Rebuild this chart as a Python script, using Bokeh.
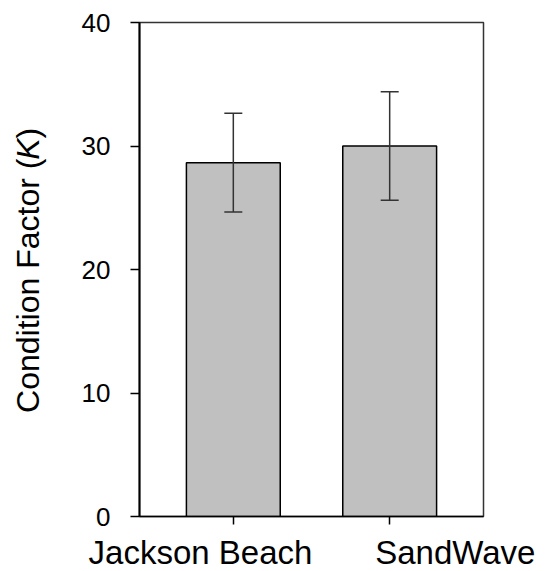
import numpy as np
from bokeh.plotting import figure
from bokeh.models import (ColumnDataSource, Range1d, FixedTicker, Whisker, TeeHead,
                          Label, LinearAxis)
from bokeh.layouts import row
from bokeh.embed import file_html
from bokeh.resources import INLINE

# ---- data ----
categories = ["Jackson Beach", "SandWave"]
condition_k = [28.65, 30.0]
k_error = [4.0, 4.4]
y_ticks = [0, 10, 20, 30, 40]

FONT = "Liberation Sans"
xpos = [float(i) for i in range(1, len(categories) + 1)]
upper = [v + e for v, e in zip(condition_k, k_error)]
lower = [v - e for v, e in zip(condition_k, k_error)]
src = ColumnDataSource(dict(x=xpos, top=condition_k, upper=upper, lower=lower))

TOP, BOTTOM = 22, 55
FRAME_H = 494
FRAME_W = 344
LW = 50
y_range = Range1d(0, 40)

# ---- main plot ----
p = figure(frame_width=FRAME_W, frame_height=FRAME_H, output_backend="svg",
           toolbar_location=None,
           x_range=Range1d(0.4, len(categories) + 0.6), y_range=y_range,
           min_border_left=139 - LW, min_border_right=58,
           min_border_top=TOP, min_border_bottom=BOTTOM)
p.background_fill_color = "white"
p.border_fill_color = "white"
p.outline_line_color = "#333333"
p.outline_line_width = 1.5
p.xgrid.visible = False
p.ygrid.visible = False

p.vbar(x="x", top="top", width=0.6, source=src, fill_color="#c0c0c0",
       line_color="black", line_width=1.5)

wh = Whisker(base="x", upper="upper", lower="lower", source=src, level="overlay",
             line_color="#333333", line_width=1.5,
             upper_head=TeeHead(size=18, line_color="#333333", line_width=1.5),
             lower_head=TeeHead(size=18, line_color="#333333", line_width=1.5))
p.add_layout(wh)

# y axis
p.yaxis.ticker = FixedTicker(ticks=y_ticks)
p.yaxis.minor_tick_line_color = None
p.yaxis.major_tick_in = 0
p.yaxis.major_tick_out = 9
p.yaxis.major_label_standoff = 20
p.yaxis.major_label_text_font = FONT
p.yaxis.major_label_text_font_size = "26px"
p.yaxis.major_label_text_color = "black"
p.yaxis.axis_line_color = "black"
p.yaxis.axis_line_width = 2
p.yaxis.major_tick_line_width = 1.5

# x axis: tick marks at bar centres
xa = p.xaxis[0]
xa.ticker = FixedTicker(ticks=xpos)
xa.major_label_overrides = {x: "" for x in xpos}
xa.major_label_text_font_size = "0px"
xa.major_label_standoff = 0
xa.minor_tick_line_color = None
xa.major_tick_in = 0
xa.major_tick_out = 8
xa.axis_line_color = "black"
xa.axis_line_width = 1.5
xa.major_tick_line_width = 1.5

# category labels on a second axis (spread so they do not overlap)
label_x = [0.79, 2.42]
la = LinearAxis(ticker=FixedTicker(ticks=label_x),
                major_label_overrides={lx: c for lx, c in zip(label_x, categories)},
                major_tick_in=0, major_tick_out=0, minor_tick_line_color=None,
                axis_line_color=None, major_label_standoff=9,
                major_label_text_font=FONT, major_label_text_font_size="33px",
                major_label_text_color="black")
p.add_layout(la, "below")

# ---- y axis title (with italic K) in its own strip ----
lf = figure(width=LW, height=TOP + FRAME_H + BOTTOM, output_backend="svg",
            toolbar_location=None, x_range=Range1d(0, LW), y_range=y_range,
            x_axis_location=None, y_axis_location=None,
            min_border_left=0, min_border_right=0,
            min_border_top=TOP, min_border_bottom=BOTTOM)
lf.outline_line_color = None
lf.xgrid.visible = False
lf.ygrid.visible = False
lf.background_fill_color = "white"
lf.border_fill_color = "white"

parts = [("Condition Factor (", "normal", 8.26), ("K", "italic", 28.85), (")", "normal", 30.57)]
for txt, style, yy in parts:
    lf.add_layout(Label(x=27, y=yy, text=txt, angle=np.pi / 2, text_align="left",
                        text_baseline="alphabetic", text_font=FONT,
                        text_font_style=style, text_font_size="32px", text_color="black"))

layout = row(lf, p)
open("out.html", "w").write(file_html(layout, INLINE))
